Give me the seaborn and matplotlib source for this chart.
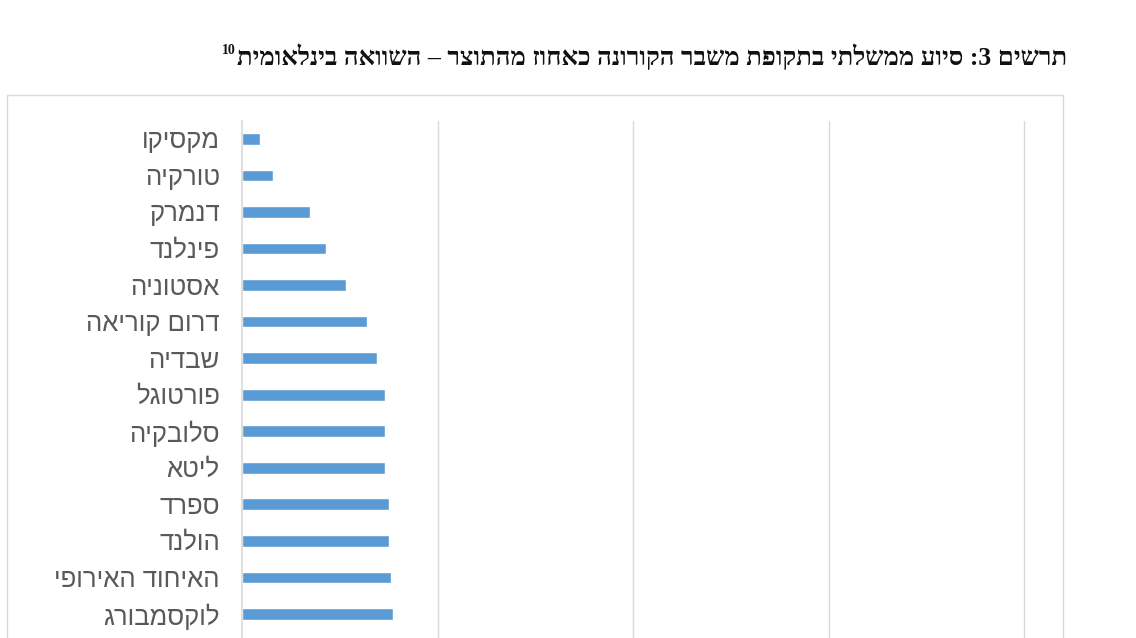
import re
import matplotlib
matplotlib.use("Agg")
import matplotlib.pyplot as plt
from matplotlib.patches import Rectangle
import seaborn as sns

sns.set_theme(style="white")
plt.rcParams['font.family'] = ['Liberation Sans', 'DejaVu Sans']

# data (top to bottom); one gridline = 10 units
countries = ['מקסיקו', 'טורקיה', 'דנמרק', 'פינלנד', 'אסטוניה', 'דרום קוריאה', 'שבדיה',
             'פורטוגל', 'סלובקיה', 'ליטא', 'ספרד', 'הולנד', 'האיחוד האירופי', 'לוקסמבורג']
support = [0.9, 1.6, 3.5, 4.3, 5.3, 6.4, 6.9, 7.3, 7.3, 7.3, 7.5, 7.5, 7.6, 7.7]
title = 'תרשים 3: סיוע ממשלתי בתקופת משבר הקורונה כאחוז מהתוצר – השוואה בינלאומית'
footnote = '10'


def rtl(s):
    # matplotlib has no bidi support: flip Hebrew to visual order, keep digit runs LTR
    parts = re.split(r'(\d+)', s)
    return ''.join(p if p.isdigit() else p[::-1] for p in reversed(parts))


labels = [rtl(c) for c in countries]

fig = plt.figure(figsize=(11.36, 6.38), dpi=100)
ax = fig.add_axes([242 / 1136, 0, (1026 - 242) / 1136, 1 - 121 / 638])

sns.barplot(x=support, y=labels, color='#5B9BD5', width=0.32, saturation=1,
            orient='h', ax=ax)

ax.set_xlim(0, 40 * (1026 - 242) / (1024 - 242))
ax.set_ylim(13.66, -0.49)
ax.set_xticks([10, 20, 30, 40])
ax.set_xticklabels([])
ax.tick_params(axis='x', length=0)
ax.tick_params(axis='y', length=0, pad=16, labelsize=18.5, labelcolor='#595959')
ax.xaxis.grid(True, color='#d9d9d9', linewidth=1)
ax.set_axisbelow(True)
for side in ['top', 'right', 'bottom']:
    ax.spines[side].set_visible(False)
ax.spines['left'].set_color('#d9d9d9')
ax.spines['left'].set_linewidth(1.2)
ax.set_xlabel('')
ax.set_ylabel('')

# outer chart frame (cropped at bottom)
fig.patches.append(Rectangle((7 / 1136, -0.2), (1063 - 7) / 1136, 1.2 - 95 / 638,
                             transform=fig.transFigure, fill=False,
                             edgecolor='#d9d9d9', linewidth=1))

t = fig.text(1067 / 1136, 1 - 57 / 638, rtl(title), ha='right', va='center',
             fontsize=18.5, fontweight='bold', color='#111111',
             family=['Liberation Serif', 'DejaVu Serif'])
fig.canvas.draw()
bb = t.get_window_extent()
fig.text((bb.x0 - 1) / fig.bbox.width, (bb.y0 + bb.height * 0.5) / fig.bbox.height, footnote,
         ha='right', va='bottom', fontsize=10, fontweight='bold', color='#111111',
         family=['Liberation Serif', 'DejaVu Serif'])

fig.savefig('out.png', dpi=100)
